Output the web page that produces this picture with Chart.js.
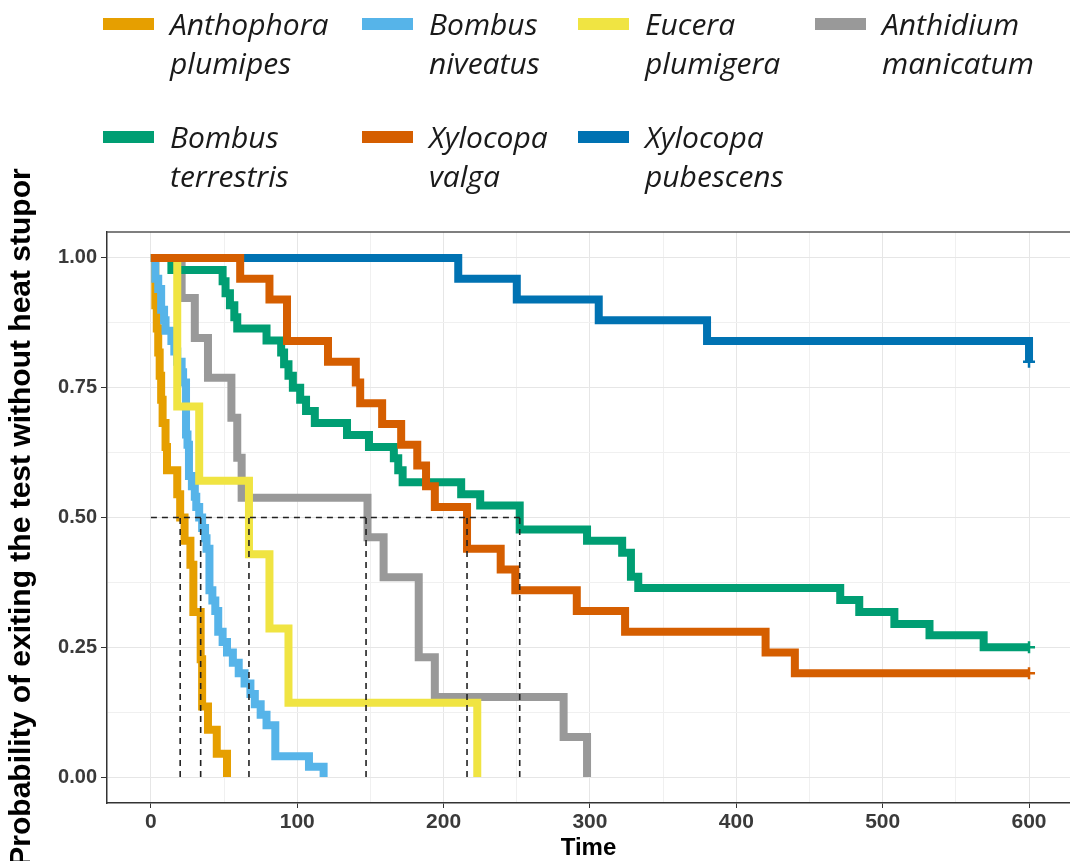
<!DOCTYPE html>
<html>
<head>
<meta charset="utf-8">
<script src="https://cdn.jsdelivr.net/npm/chart.js@4.4.1/dist/chart.umd.min.js"></script>
<style>
  html, body { margin: 0; padding: 0; background: #fff; overflow: hidden; }
  #wrap { position: relative; width: 1070px; height: 861px; }
  #chart { position: absolute; left: 0; top: 0; }
  #legend {
    position: absolute; left: 103px; top: 4px;
    display: grid; grid-template-columns: 259px 216px 237px 220px; row-gap: 35px;
    font-family: 'Open Sans', sans-serif; font-style: italic; font-size: 30px; line-height: 39px;
    color: #1a1a1a;
  }
  .item { display: flex; align-items: flex-start; }
  .key { width: 51px; height: 12px; margin-top: 14px; margin-right: 16px; flex: none; }
</style>
</head>
<body>
<div id="wrap">
  <canvas id="chart" width="1070" height="861"></canvas>
  <div id="legend"></div>
</div>
<script>
// Kaplan-Meier steps: time of each drop and the level after it
const anthophoraTime = [0, 3, 4, 5, 6, 7, 8, 10, 11, 18, 20, 23, 27, 29, 34, 35, 39, 45, 52];
const anthophoraSurv = [1, 0.909, 0.864, 0.818, 0.773, 0.727, 0.682, 0.636, 0.591, 0.545, 0.5, 0.455, 0.409, 0.318, 0.227, 0.136, 0.091, 0.045, 0];

const niveatusTime = [0, 3, 5, 7, 9, 10, 14, 16, 18, 21, 22, 24, 25, 26, 28, 30, 31, 33, 35, 37, 38, 40, 42, 44, 46, 49, 52, 56, 60, 64, 68, 71, 75, 79, 85, 108, 118];
const niveatusSurv = [1, 0.96, 0.94, 0.90, 0.88, 0.86, 0.84, 0.82, 0.80, 0.78, 0.76, 0.66, 0.64, 0.58, 0.56, 0.54, 0.52, 0.50, 0.48, 0.46, 0.44, 0.36, 0.34, 0.32, 0.28, 0.26, 0.24, 0.22, 0.20, 0.18, 0.16, 0.14, 0.12, 0.10, 0.04, 0.02, 0];

const euceraTime = [0, 18, 33, 67, 81, 94, 223];
const euceraSurv = [1, 0.714, 0.571, 0.429, 0.286, 0.143, 0];

const anthidiumTime = [0, 21, 30, 39, 55, 59, 62, 148, 159, 183, 194, 282, 298];
const anthidiumSurv = [1, 0.923, 0.846, 0.769, 0.692, 0.615, 0.538, 0.462, 0.385, 0.231, 0.154, 0.077, 0];

const terrestrisTime = [0, 14, 49, 51, 54, 57, 59, 79, 89, 91, 94, 97, 102, 106, 112, 134, 149, 166, 169, 172, 212, 225, 252, 298, 322, 328, 333, 471, 484, 508, 532, 569, 600];
const terrestrisSurv = [1, 0.977, 0.955, 0.932, 0.909, 0.886, 0.864, 0.841, 0.818, 0.795, 0.773, 0.75, 0.727, 0.705, 0.682, 0.659, 0.636, 0.614, 0.591, 0.568, 0.545, 0.523, 0.477, 0.455, 0.432, 0.386, 0.364, 0.341, 0.318, 0.295, 0.273, 0.25, 0.25];

const valgaTime = [0, 61, 81, 93, 121, 140, 143, 158, 171, 182, 188, 194, 216, 239, 249, 291, 324, 420, 440, 600];
const valgaSurv = [1, 0.96, 0.92, 0.84, 0.80, 0.76, 0.72, 0.68, 0.64, 0.60, 0.56, 0.52, 0.44, 0.40, 0.36, 0.32, 0.28, 0.24, 0.20, 0.20];

const pubescensTime = [0, 210, 250, 306, 380, 600];
const pubescensSurv = [1, 0.96, 0.92, 0.88, 0.84, 0.80];

const seriesLabels = ['Anthophora plumipes', 'Bombus niveatus', 'Eucera plumigera', 'Anthidium manicatum',
                      'Bombus terrestris', 'Xylocopa valga', 'Xylocopa pubescens'];
const seriesTimes = [anthophoraTime, niveatusTime, euceraTime, anthidiumTime, terrestrisTime, valgaTime, pubescensTime];
const seriesSurv = [anthophoraSurv, niveatusSurv, euceraSurv, anthidiumSurv, terrestrisSurv, valgaSurv, pubescensSurv];
const seriesColors = ['#E69F00', '#56B4E9', '#F0E442', '#999999', '#009E73', '#D55E00', '#0072B2'];
// lower number = drawn on top (the figure paints the species alphabetically)
const drawOrder = [6, 5, 3, 7, 4, 1, 2];
const censoredAtEnd = [false, false, false, false, true, true, true];

// median lines (dashed)
const medianTimes = [20, 34, 67, 147, 216, 252];
const medianLevel = 0.5;

const xTickValues = [0, 100, 200, 300, 400, 500, 600];
const yTickValues = [0, 0.25, 0.5, 0.75, 1];

// HTML legend, two lines per species
const legendBox = document.getElementById('legend');
seriesLabels.forEach((name, i) => {
    const item = document.createElement('div');
    item.className = 'item';
    const key = document.createElement('span');
    key.className = 'key';
    key.style.background = seriesColors[i];
    const text = document.createElement('div');
    text.innerHTML = name.split(' ').join('<br>');
    item.appendChild(key);
    item.appendChild(text);
    legendBox.appendChild(item);
});

const datasets = seriesLabels.map((name, i) => {
    const last = seriesTimes[i].length - 1;
    return {
        label: name,
        data: seriesTimes[i].map((t, k) => ({ x: t, y: seriesSurv[i][k] })),
        borderColor: seriesColors[i],
        backgroundColor: seriesColors[i],
        borderWidth: 8,
        stepped: 'before',
        borderJoinStyle: 'miter',
        borderCapStyle: 'butt',
        fill: false,
        order: drawOrder[i],
        pointStyle: 'cross',
        pointRadius: ctx => (censoredAtEnd[i] && ctx.dataIndex === last) ? 6 : 0,
        pointBorderWidth: 2.5,
        pointBorderColor: seriesColors[i]
    };
});

const dashStyle = {
    borderColor: '#222',
    borderWidth: 1.6,
    borderDash: [6, 5],
    pointRadius: 0,
    fill: false,
    order: 0
};
datasets.push(Object.assign({
    label: 'median',
    data: [{ x: 0, y: medianLevel }, { x: Math.max(...medianTimes), y: medianLevel }]
}, dashStyle));
medianTimes.forEach(m => {
    datasets.push(Object.assign({
        label: 'median ' + m,
        data: [{ x: m, y: 0 }, { x: m, y: medianLevel }]
    }, dashStyle));
});

// top edge of the panel
const panelTop = {
    id: 'panelTop',
    afterDraw(chart) {
        const { ctx, chartArea } = chart;
        ctx.save();
        ctx.strokeStyle = '#555';
        ctx.lineWidth = 1.5;
        ctx.beginPath();
        ctx.moveTo(chartArea.left, chartArea.top);
        ctx.lineTo(chartArea.right, chartArea.top);
        ctx.stroke();
        ctx.restore();
    }
};

const labelFamily = "'Liberation Sans', Arial, sans-serif";

new Chart(document.getElementById('chart'), {
    type: 'line',
    data: { datasets },
    options: {
        responsive: false,
        animation: false,
        layout: { autoPadding: false, padding: { top: 232, right: 0, left: 0, bottom: 0 } },
        plugins: { legend: { display: false }, tooltip: { enabled: false } },
        scales: {
            x: {
                type: 'linear',
                min: -30,
                max: 628,
                afterBuildTicks: s => {
                    const t = [];
                    for (let v = 0; v <= 600; v += 50) t.push({ value: v });
                    s.ticks = t;
                },
                afterFit: s => { s.height = 58; },
                ticks: {
                    autoSkip: false,
                    maxRotation: 0,
                    padding: 2,
                    font: { family: labelFamily, weight: 'bold', size: 21 },
                    color: '#3a3a3a',
                    callback: v => xTickValues.includes(v) ? String(v) : ''
                },
                grid: {
                    color: c => xTickValues.includes(c.tick.value) ? '#e6e6e6' : '#f0f0f0',
                    tickColor: c => xTickValues.includes(c.tick.value) ? '#333' : 'rgba(0,0,0,0)',
                    tickLength: 5
                },
                border: { color: '#333', width: 1.5 },
                title: {
                    display: true,
                    text: 'Time',
                    color: '#000',
                    font: { family: labelFamily, weight: 'bold', size: 24, lineHeight: 1 },
                    padding: { top: 0, bottom: 1 }
                }
            },
            y: {
                type: 'linear',
                min: -0.05,
                max: 1.05,
                afterBuildTicks: s => {
                    const t = [];
                    for (let v = 0; v <= 1; v += 0.125) t.push({ value: v });
                    s.ticks = t;
                },
                afterFit: s => { s.width = 107; },
                ticks: {
                    autoSkip: false,
                    padding: 4,
                    font: { family: labelFamily, weight: 'bold', size: 20 },
                    color: '#3a3a3a',
                    callback: v => yTickValues.includes(v) ? v.toFixed(2) : ''
                },
                grid: {
                    color: c => yTickValues.includes(c.tick.value) ? '#e6e6e6' : '#f0f0f0',
                    tickColor: c => yTickValues.includes(c.tick.value) ? '#333' : 'rgba(0,0,0,0)',
                    tickLength: 6
                },
                border: { color: '#333', width: 1.5 },
                title: {
                    display: true,
                    text: 'Probability of exiting the test without heat stupor',
                    color: '#000',
                    font: { family: labelFamily, weight: 'bold', size: 30, lineHeight: 1 },
                    padding: { top: 7, bottom: 0 }
                }
            }
        }
    },
    plugins: [panelTop]
});
</script>
</body>
</html>
